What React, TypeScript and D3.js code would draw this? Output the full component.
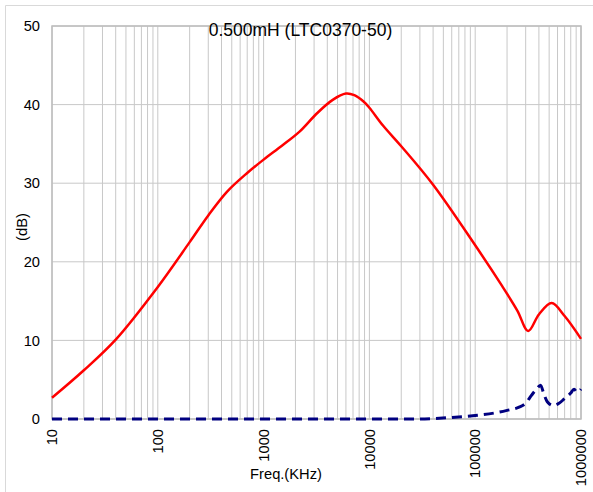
import React from "react";
import * as d3 from "d3";

const titleText = "0.500mH (LTC0370-50)";
const xAxisTitle = "Freq.(KHz)";
const yAxisTitle = "(dB)";
const xTickValues = [10, 100, 1000, 10000, 100000, 1000000];
const yTickValues = [0, 10, 20, 30, 40, 50];

const redFreq = [10, 20, 40, 100, 200, 300, 450, 700, 1000, 1500, 2200, 3200, 4500, 6000, 7200, 8800, 10000, 13500, 20000, 40000, 100000, 180000, 250000, 317000, 400000, 528000, 700000, 1000000];
const redDb = [2.7, 6.2, 10.1, 16.8, 22.5, 25.9, 28.9, 31.3, 33.0, 34.8, 36.6, 38.9, 40.6, 41.4, 41.2, 40.4, 39.6, 37.3, 34.7, 29.8, 22.1, 16.9, 13.8, 11.2, 13.3, 14.75, 13.1, 10.2];

const blueFreq = [10, 1000, 10000, 30000, 60000, 100000, 150000, 200000, 260000, 300000, 340000, 380000, 415000, 445000, 480000, 550000, 620000, 700000, 800000, 860000, 920000, 1000000];
const blueDb = [0, 0, 0, 0, 0.2, 0.45, 0.75, 1.1, 1.5, 2.0, 3.0, 3.8, 4.3, 3.2, 2.2, 1.7, 2.0, 2.6, 3.3, 3.8, 3.4, 3.8];

export default function App() {
  const W = 593, H = 492;
  const left = 52, right = 581, top = 26, bottom = 419;
  const x = d3.scaleLog().domain([10, 1000000]).range([left, right]);
  const y = d3.scaleLinear().domain([0, 50]).range([bottom, top]);

  const minor: number[] = [];
  for (let e = 1; e < 6; e++) {
    for (let m = 2; m <= 9; m++) minor.push(m * Math.pow(10, e));
  }

  const redLine = d3
    .line<[number, number]>()
    .x((d) => x(d[0]))
    .y((d) => y(d[1]))
    .curve(d3.curveCatmullRom.alpha(0.5));
  const blueLine = d3
    .line<[number, number]>()
    .x((d) => x(d[0]))
    .y((d) => y(d[1]))
    .curve(d3.curveMonotoneX);

  const redPts = redFreq.map((f, i) => [f, redDb[i]] as [number, number]);
  const bluePts = blueFreq.map((f, i) => [f, blueDb[i]] as [number, number]);
  const font = "'Liberation Sans', Arial, sans-serif";

  return (
    <svg width={W} height={H} style={{ position: "absolute", left: 0, top: 0 }} fontFamily={font}>
      <rect x={0} y={0} width={W} height={H} fill="#fff" />
      <line x1={5.5} y1={5.5} x2={W} y2={5.5} stroke="#d9d9d9" />
      <line x1={5.5} y1={5.5} x2={5.5} y2={H} stroke="#d9d9d9" />
      {minor.concat(xTickValues).map((v, i) => (
        <line key={"vx" + i} x1={x(v)} x2={x(v)} y1={top} y2={bottom} stroke="#c8c8c8" strokeWidth={1} />
      ))}
      {yTickValues.map((v, i) => (
        <line key={"hy" + i} x1={left} x2={right} y1={y(v)} y2={y(v)} stroke="#c8c8c8" strokeWidth={1} />
      ))}
      <rect x={left} y={top} width={right - left} height={bottom - top} fill="none" stroke="#bdbdbd" strokeWidth={1.5} />
      <path d={redLine(redPts) || ""} fill="none" stroke="#ff0000" strokeWidth={2.5} />
      <path d={blueLine(bluePts) || ""} fill="none" stroke="#000080" strokeWidth={3} strokeDasharray="10,6" />
      {yTickValues.map((v, i) => (
        <text key={"yt" + i} x={40} y={y(v)} dy="0.35em" textAnchor="end" fontSize={14.7} fill="#000">
          {v}
        </text>
      ))}
      {xTickValues.map((v, i) => (
        <text
          key={"xt" + i}
          transform={`translate(${x(v)},${429}) rotate(-90)`}
          dy="0.35em"
          textAnchor="end"
          fontSize={14.7}
          fill="#000"
        >
          {v}
        </text>
      ))}
      <text x={286} y={479} textAnchor="middle" fontSize={14.7} fill="#000">
        {xAxisTitle}
      </text>
      <text transform={`translate(22,227) rotate(-90)`} textAnchor="middle" dy="0.35em" fontSize={14.7} fill="#000">
        {yAxisTitle}
      </text>
      <text x={300.5} y={36} textAnchor="middle" fontSize={17.5} fill="#000">
        {titleText}
      </text>
    </svg>
  );
}
